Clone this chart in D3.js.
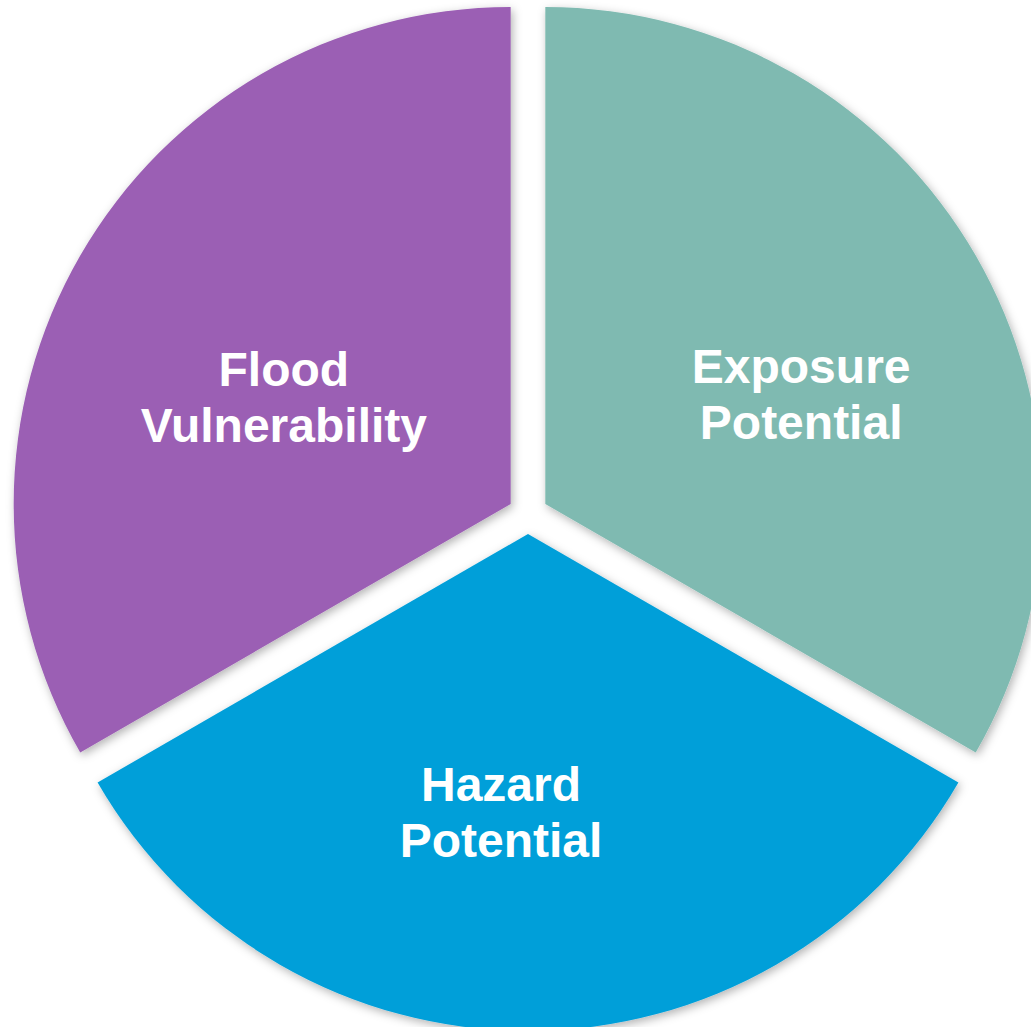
<!DOCTYPE html>
<html>
<head>
<meta charset="utf-8">
<script src="https://cdn.jsdelivr.net/npm/d3@7"></script>
<style>
  body { margin: 0; background: #fff; overflow: hidden; }
</style>
</head>
<body>
<div id="chart"></div>
<script>
// three equal parts of flood risk
const categories = ['Exposure Potential', 'Hazard Potential', 'Flood Vulnerability'];
const values = [1, 1, 1];
const labelLines = [['Exposure', 'Potential'], ['Hazard', 'Potential'], ['Flood', 'Vulnerability']];
const colors = ['#7fbab1', '#009fd9', '#9b5fb4'];

const width = 1031, height = 1027;
const cx = 528, cy = 514;
const radius = 497;
const explode = 20;
const labelRadius = 270;
// hand nudges so labels sit like the original
const labelNudge = [[22, 27], [-27, 10], [7, 30]];

const svg = d3.select('#chart')
  .append('svg')
  .attr('width', width)
  .attr('height', height);

const defs = svg.append('defs');
const f = defs.append('filter')
  .attr('id', 'shadow')
  .attr('x', '-10%').attr('y', '-10%')
  .attr('width', '120%').attr('height', '120%');
f.append('feDropShadow')
  .attr('dx', 2).attr('dy', 3)
  .attr('stdDeviation', 5)
  .attr('flood-color', '#000')
  .attr('flood-opacity', 0.3);

const pie = d3.pie().sort(null).value(d => d)(values);
const arc = d3.arc().innerRadius(0).outerRadius(radius);
const labelArc = d3.arc().innerRadius(labelRadius).outerRadius(labelRadius);

const g = svg.append('g').attr('transform', `translate(${cx},${cy})`);

const slices = g.selectAll('g.slice')
  .data(pie)
  .join('g')
  .attr('class', 'slice')
  .attr('transform', d => {
    const a = (d.startAngle + d.endAngle) / 2;
    return `translate(${Math.sin(a) * explode},${-Math.cos(a) * explode})`;
  });

slices.append('path')
  .attr('d', arc)
  .attr('fill', (d, i) => colors[i])
  .attr('filter', 'url(#shadow)');

const labels = slices.append('text')
  .attr('transform', (d, i) => {
    const [x, y] = labelArc.centroid(d);
    return `translate(${x + labelNudge[i][0]},${y + labelNudge[i][1]})`;
  })
  .attr('text-anchor', 'middle')
  .attr('fill', '#fff')
  .style('font-family', '"Liberation Sans", Arial, sans-serif')
  .style('font-weight', 'bold')
  .style('font-size', '48px');

labels.each(function(d, i) {
  const t = d3.select(this);
  labelLines[i].forEach((line, j) => {
    t.append('tspan')
      .attr('x', 0)
      .attr('y', -28 + j * 56 + 15)
      .text(line);
  });
});
</script>
</body>
</html>
